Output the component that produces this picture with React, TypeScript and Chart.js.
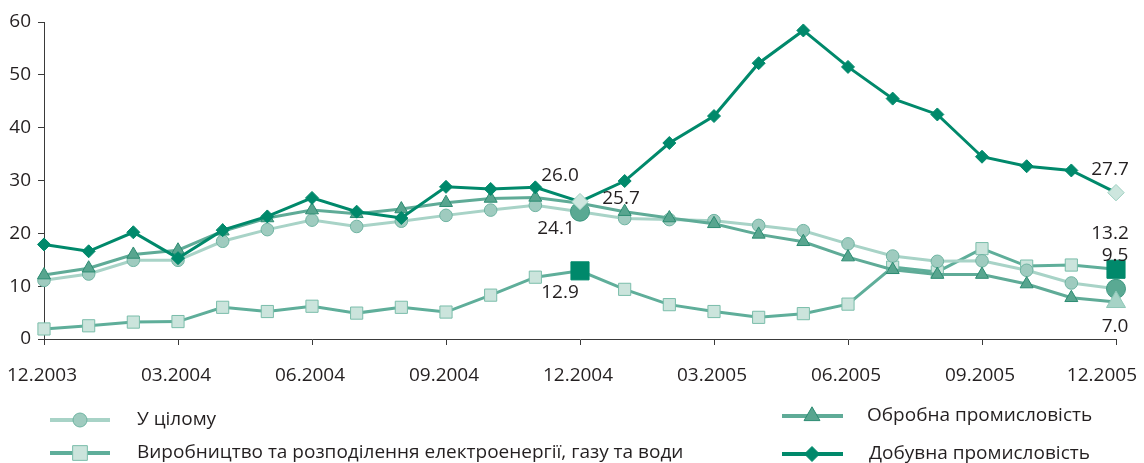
import React, { useEffect, useRef } from "react";
import { Chart, registerables } from "chart.js";
import { drawPoint } from "chart.js/helpers";

Chart.register(...registerables);

// ---------- data ----------
const months = [
  "12.2003", "01.2004", "02.2004", "03.2004", "04.2004", "05.2004", "06.2004",
  "07.2004", "08.2004", "09.2004", "10.2004", "11.2004", "12.2004",
  "01.2005", "02.2005", "03.2005", "04.2005", "05.2005", "06.2005",
  "07.2005", "08.2005", "09.2005", "10.2005", "11.2005", "12.2005",
];

const totalValues = [
  11.1, 12.3, 14.9, 14.9, 18.5, 20.7, 22.5, 21.3, 22.3, 23.4, 24.4, 25.3, 24.1,
  22.8, 22.6, 22.4, 21.5, 20.5, 18.0, 15.7, 14.7, 14.8, 13.0, 10.6, 9.5,
];

const energyValues = [
  1.9, 2.5, 3.2, 3.3, 6.0, 5.2, 6.2, 4.9, 6.0, 5.1, 8.3, 11.7, 12.9,
  9.4, 6.5, 5.2, 4.1, 4.8, 6.6, 13.6, 12.7, 17.1, 13.8, 14.0, 13.2,
];

const manufacturingValues = [
  12.1, 13.4, 16.0, 16.8, 20.4, 22.9, 24.4, 23.7, 24.6, 25.8, 26.6, 26.8, 25.7,
  24.1, 22.9, 21.8, 19.8, 18.4, 15.5, 13.1, 12.2, 12.2, 10.4, 7.8, 7.0,
];

const miningValues = [
  17.9, 16.6, 20.2, 15.3, 20.6, 23.2, 26.7, 24.1, 22.9, 28.8, 28.4, 28.7, 26.0,
  29.9, 37.1, 42.2, 52.2, 58.4, 51.5, 45.5, 42.5, 34.5, 32.7, 31.9, 27.7,
];

const seriesNames = [
  "У цілому",
  "Виробництво та розподілення електроенергії, газу та води",
  "Обробна промисловість",
  "Добувна промисловість",
];

const yTicks = { min: 0, max: 60, step: 10 };
const highlighted = [12, 24];

// ---------- styles ----------
const FONT = '"Open Sans", "Noto Sans", sans-serif';
const FONT_SIZE = 19;
const TEXT = "#231f20";
const AXIS = "#3a3a3a";

const styles = {
  total: { line: "#a8d3c7", fill: "#9fcbbf", border: "#6fb4a2", r: 6.3, hlFill: "#5aa993", hlBorder: "#3d9780", hlR: 9.5, style: "circle" },
  energy: { line: "#5fae9a", fill: "#cbe4dc", border: "#7abdaa", r: 8.6, hlFill: "#00896b", hlBorder: "#00896b", hlR: 12.8, style: "rect" },
  manuf: { line: "#5fab97", fill: "#58a58f", border: "#2c8c72", r: 7.5, hlFill: "#a6d3c6", hlBorder: "#8ec7b7", hlR: 11, style: "triangle" },
  mining: { line: "#00896b", fill: "#00896b", border: "#00896b", r: 6.5, hlFill: "#cde6de", hlBorder: "#9ccfc0", hlR: 8.2, style: "rectRot" },
};

// value labels: dataset index, point index, pixel offset from the point
const valueLabels = [
  { ds: 3, i: 12, dx: -20, dy: -26 },
  { ds: 2, i: 12, dx: 41, dy: -5 },
  { ds: 0, i: 12, dx: -24, dy: 17 },
  { ds: 1, i: 12, dx: -20, dy: 22 },
  { ds: 3, i: 24, dx: -6, dy: -23 },
  { ds: 1, i: 24, dx: -6, dy: -36 },
  { ds: 0, i: 24, dx: -1, dy: -33 },
  { ds: 2, i: 24, dx: -1, dy: 25 },
];

const legendItems = [
  { key: "total", name: 0, x1: 50, x2: 110, mx: 80, y: 420, tx: 137, r: 7, lw: 4 },
  { key: "energy", name: 1, x1: 50, x2: 110, mx: 80, y: 453, tx: 137, r: 10.4, lw: 4 },
  { key: "manuf", name: 2, x1: 782, x2: 843, mx: 812, y: 416, tx: 867, r: 9.2, lw: 4 },
  { key: "mining", name: 3, x1: 782, x2: 843, mx: 812, y: 454, tx: 869, r: 7.5, lw: 4 },
];

function pointArr<T>(n: number, normal: T, hl: T, hlIdx: number[], hide: number[] = [], hidden?: T): T[] {
  const out: T[] = [];
  for (let i = 0; i < n; i++) {
    if (hide.includes(i) && hidden !== undefined) out.push(hidden);
    else out.push(hlIdx.includes(i) ? hl : normal);
  }
  return out;
}

function makeDataset(label: string, data: number[], st: any, order: number, hide: number[] = []) {
  const n = data.length;
  return {
    label,
    data,
    order,
    borderColor: st.line,
    borderWidth: 3,
    pointStyle: st.style,
    pointRadius: pointArr(n, st.r, st.hlR, highlighted, hide, 0),
    pointBackgroundColor: pointArr(n, st.fill, st.hlFill, highlighted),
    pointBorderColor: pointArr(n, st.border, st.hlBorder, highlighted),
    pointBorderWidth: 1,
    tension: 0,
    clip: false as any,
    fill: false,
  };
}

const overlayPlugin = {
  id: "overlay",
  afterDatasetsDraw(chart: any) {
    const ctx = chart.ctx;
    ctx.save();
    ctx.font = `${FONT_SIZE}px ${FONT}`;
    ctx.fillStyle = TEXT;
    ctx.textAlign = "center";
    ctx.textBaseline = "middle";
    for (const vl of valueLabels) {
      const meta = chart.getDatasetMeta(vl.ds);
      const pt = meta.data[vl.i];
      const v = chart.data.datasets[vl.ds].data[vl.i] as number;
      ctx.fillText(v.toFixed(1), pt.x + vl.dx, pt.y + vl.dy);
    }
    ctx.restore();
  },
  afterDraw(chart: any) {
    const ctx = chart.ctx;
    const xs = chart.scales.x;
    ctx.save();
    ctx.font = `${FONT_SIZE}px ${FONT}`;
    ctx.fillStyle = TEXT;
    ctx.textAlign = "center";
    ctx.textBaseline = "middle";
    const yLab = xs.bottom - 124 + 37;
    for (let i = 0; i < months.length; i += 3) {
      const x = xs.getPixelForValue(i);
      const w = ctx.measureText(months[i]).width;
      const cx = Math.min(x - 2, chart.width - 7 - w / 2);
      ctx.fillText(months[i], cx, yLab);
    }
    // legend
    for (const it of legendItems) {
      const st = (styles as any)[it.key];
      ctx.strokeStyle = st.line;
      ctx.lineWidth = it.lw;
      ctx.beginPath();
      ctx.moveTo(it.x1, it.y);
      ctx.lineTo(it.x2, it.y);
      ctx.stroke();
      ctx.fillStyle = st.fill;
      ctx.strokeStyle = st.border;
      ctx.lineWidth = 1;
      drawPoint(ctx, { pointStyle: st.style, radius: it.r, rotation: 0, borderWidth: 1 } as any, it.mx, it.y);
      ctx.fillStyle = TEXT;
      ctx.textAlign = "left";
      ctx.fillText(seriesNames[it.name], it.tx, it.y);
    }
    ctx.restore();
  },
};

export default function App() {
  const ref = useRef<HTMLCanvasElement | null>(null);
  useEffect(() => {
    if (!ref.current) return;
    const chart = new Chart(ref.current, {
      type: "line",
      data: {
        labels: months,
        datasets: [
          makeDataset(seriesNames[0], totalValues, styles.total, 2),
          makeDataset(seriesNames[1], energyValues, styles.energy, 3),
          makeDataset(seriesNames[2], manufacturingValues, styles.manuf, 1, [12]),
          makeDataset(seriesNames[3], miningValues, styles.mining, 0),
        ] as any,
      },
      options: {
        animation: false,
        responsive: true,
        maintainAspectRatio: false,
        layout: { padding: { left: 0, right: 28, top: 22, bottom: 0 } },
        plugins: {
          legend: { display: false },
          tooltip: { enabled: false },
        },
        events: [],
        scales: {
          x: {
            type: "category",
            offset: false,
            grid: {
              drawOnChartArea: false,
              drawTicks: true,
              tickLength: 6,
              tickWidth: 1,
              tickColor: (c: any) => (c.index % 3 === 0 ? AXIS : "rgba(0,0,0,0)"),
            },
            border: { display: true, color: AXIS, width: 1 },
            ticks: { display: false, autoSkip: false },
            afterFit: (s: any) => {
              s.height = 124;
            },
          },
          y: {
            min: yTicks.min,
            max: yTicks.max,
            ticks: {
              stepSize: yTicks.step,
              font: { family: FONT, size: FONT_SIZE },
              color: TEXT,
              padding: 7,
            },
            grid: { drawOnChartArea: false, tickLength: 6, tickColor: AXIS },
            border: { display: true, color: AXIS, width: 1 },
            afterFit: (s: any) => {
              s.width = 44;
            },
          },
        },
      } as any,
      plugins: [overlayPlugin],
    });
    return () => chart.destroy();
  }, []);
  return (
    <div style={{ position: "absolute", left: 0, top: 0, width: 1144, height: 463, background: "#fff" }}>
      <canvas ref={ref} />
    </div>
  );
}
